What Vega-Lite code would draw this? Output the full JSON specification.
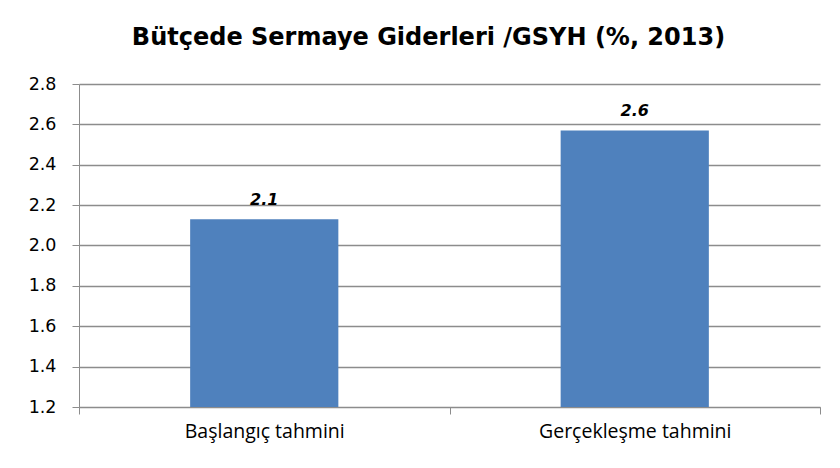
{
  "$schema": "https://vega.github.io/schema/vega-lite/v6.json",
  "width": 741,
  "height": 323,
  "autosize": {"type": "none"},
  "padding": {"left": 79, "top": 84, "right": 20, "bottom": 61},
  "background": "white",
  "title": {
    "text": "Bütçede Sermaye Giderleri /GSYH (%, 2013)",
    "font": "DejaVu Sans",
    "fontSize": 24,
    "fontWeight": "bold",
    "color": "#000000",
    "anchor": "middle",
    "frame": "group",
    "baseline": "alphabetic",
    "offset": 6,
    "dx": -21
  },
  "data": {
    "values": [
      {"cat": "Başlangıç tahmini", "value": 2.13},
      {"cat": "Gerçekleşme tahmini", "value": 2.57}
    ]
  },
  "encoding": {
    "x": {
      "field": "cat",
      "type": "nominal",
      "sort": null,
      "scale": {"paddingInner": 0, "paddingOuter": 0},
      "axis": {
        "title": null,
        "labelAngle": 0,
        "labelLimit": 400,
        "labelOverlap": false,
        "tickBand": "extent",
        "tickSize": 7,
        "tickColor": "#8c8c8c",
        "domainColor": "#8c8c8c",
        "labelFont": "Open Sans",
        "labelFontSize": 19.5,
        "labelColor": "#000000",
        "labelPadding": 8
      }
    },
    "y": {
      "field": "value",
      "type": "quantitative",
      "scale": {"domain": [1.2, 2.8], "nice": false, "zero": false},
      "axis": {
        "title": null,
        "values": [1.2, 1.4, 1.6, 1.8, 2.0, 2.2, 2.4, 2.6, 2.8],
        "format": ".1f",
        "grid": true,
        "gridColor": "#8c8c8c",
        "gridWidth": 1.5,
        "tickSize": 7,
        "tickColor": "#8c8c8c",
        "domainColor": "#8c8c8c",
        "labelFont": "DejaVu Sans",
        "labelFontSize": 17.5,
        "labelColor": "#000000",
        "labelPadding": 16
      }
    }
  },
  "layer": [
    {
      "mark": {"type": "bar", "width": {"band": 0.4}, "color": "#4F81BD"},
      "encoding": {"y2": {"datum": 1.2}}
    },
    {
      "mark": {
        "type": "text",
        "dy": -19,
        "font": "DejaVu Sans",
        "fontSize": 16,
        "fontWeight": "bold",
        "fontStyle": "italic",
        "color": "#000000"
      },
      "encoding": {"text": {"field": "value", "type": "quantitative", "format": ".1f"}}
    }
  ],
  "config": {"view": {"stroke": null}}
}
